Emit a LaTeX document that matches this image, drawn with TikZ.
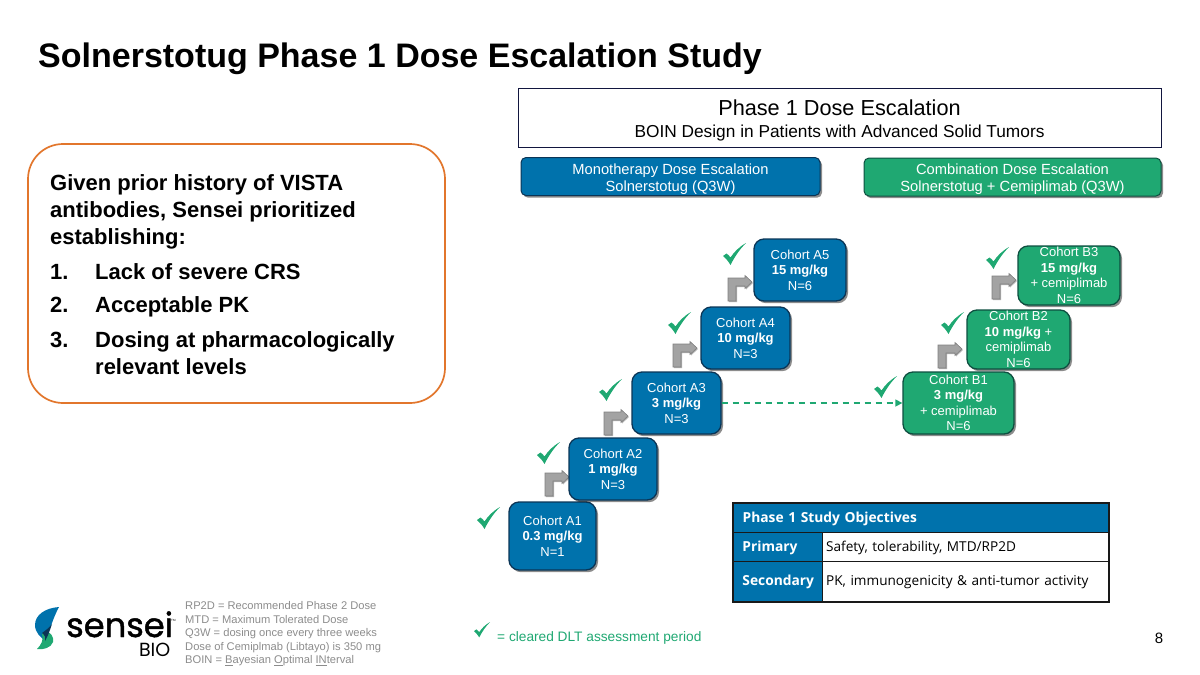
\documentclass[tikz,border=0pt]{standalone}
\usepackage{fontspec}
\setmainfont{Liberation Sans}
\newfontfamily\tablefont{Open Sans}
\newfontfamily\logofont[FakeBold=1.3]{Poppins}
\newfontfamily\biofont{Poppins}
\usetikzlibrary{shadows,arrows.meta}
\definecolor{sblue}{HTML}{0072AC}
\definecolor{sgreen}{HTML}{1FA872}
\definecolor{sgreendk}{HTML}{0E4F40}
\definecolor{sbluedk}{HTML}{0B3556}
\definecolor{sorange}{HTML}{E2762C}
\definecolor{footgray}{HTML}{8C8C8C}
\definecolor{navy}{HTML}{12163F}
\tikzset{
  x=1pt,y=-1pt,
  boxshadow/.style={drop shadow={shadow xshift=2pt,shadow yshift=-2.2pt,opacity=.45,fill=black}},
  cohortbase/.style={rounded corners=10pt,line width=1.3pt,text=white,align=center,inner sep=0pt,boxshadow,
    font=\fontsize{13}{15.5}\selectfont},
  cohortA/.style={cohortbase,fill=sblue,draw=sbluedk},
  cohortB/.style={cohortbase,fill=sgreen,draw=sgreendk},
  headbase/.style={rounded corners=5pt,line width=1pt,text=white,align=center,inner sep=0pt,boxshadow,
    font=\fontsize{14.7}{17.5}\selectfont},
  checkmark/.style={fill=sgreen,draw=none},
  bentshape/.style={fill=black!36,draw=black!50,line width=.6pt,
    drop shadow={shadow xshift=1pt,shadow yshift=-1pt,opacity=.3,fill=black}},
  tablecell/.style={draw=black!90,line width=1.3pt,inner sep=0pt,anchor=north west,text height=12pt,text depth=2.5pt},
  tablehead/.style={tablecell,fill=sblue,text=white,font=\tablefont\bfseries\fontsize{13.8}{15}\selectfont,align=left},
  tablebody/.style={tablecell,fill=white,text=black,font=\tablefont\fontsize{13.6}{15}\selectfont,align=left},
  footnote/.style={text=footgray,align=left,inner sep=0pt,font=\fontsize{11.15}{13.5}\selectfont},
}
\newcommand{\chk}[3]{\fill[checkmark,shift={(#1,#2)},scale=#3] (0,13) -- (3.5,10.5) .. controls (5,11.5) and (6.5,13) .. (7.5,14.5) .. controls (11,9) and (16,4) .. (23,0) .. controls (17,6) and (12,13) .. (7.5,22) .. controls (5.5,18.5) and (3,15.5) .. (0,13) -- cycle;}
\newcommand{\bent}[2]{\draw[bentshape,shift={(#1,#2)}] (-24,19) -- (-24,-4) -- (-7,-4) -- (-7,-6.5) -- (0,0) -- (-7,6.5) -- (-7,4) -- (-16,4) -- (-16,19) -- cycle;}
\begin{document}
\begin{tikzpicture}
\useasboundingbox (0,0) rectangle (1200,675);

\node[anchor=west,inner sep=0pt,font=\bfseries\fontsize{34}{40}\selectfont] (title) at (38,59) {Solnerstotug Phase 1 Dose Escalation Study};

% callout
\node[draw=sorange,line width=1.7pt,rounded corners=35pt,fill=white,minimum width=417pt,minimum height=259pt,inner sep=0pt] (callout) at (236.5,273.5) {};
\node[anchor=north west,inner sep=0pt,align=left,font=\bfseries\fontsize{22}{27}\selectfont] (callouttext) at (50,174.5) {Given prior history of VISTA\\antibodies, Sensei prioritized\\establishing:\\[8pt]
\makebox[45pt][l]{1.}Lack of severe CRS\\[6pt]
\makebox[45pt][l]{2.}Acceptable PK\\[8pt]
\makebox[45pt][l]{3.}Dosing at pharmacologically\\
\makebox[45pt][l]{}relevant levels};

% header
\node[draw=navy,line width=1pt,minimum width=643pt,minimum height=59pt,inner sep=0pt,align=center] (phase) at (839.5,117.5) {};
\node[font=\fontsize{21.7}{26}\selectfont,inner sep=0pt] (phasetitle) at (839.5,108) {Phase 1 Dose Escalation};
\node[font=\fontsize{17.3}{20}\selectfont,inner sep=0pt] (phasesub) at (839.5,133.5) {BOIN Design in Patients with Advanced Solid Tumors};
\node[headbase,fill=sblue,draw=sbluedk,minimum width=299pt,minimum height=38pt] (mono) at (670.5,176.5) {\rule{0pt}{16pt}Monotherapy Dose Escalation\\Solnerstotug (Q3W)};
\node[headbase,fill=sgreen,draw=sgreendk,minimum width=297pt,minimum height=38pt] (combo) at (1012.5,177) {\rule{0pt}{15pt}Combination Dose Escalation\\Solnerstotug + Cemiplimab (Q3W)};

% bent arrows
\bent{569}{477}
\bent{628}{416}
\bent{697}{348}
\bent{752}{282}
\bent{962}{349}
\bent{1016}{280}

% cohorts
\node[cohortA,minimum width=87pt,minimum height=68pt] (A1) at (552.5,536) {Cohort A1\\\textbf{0.3 mg/kg}\\N=1};
\node[cohortA,minimum width=88pt,minimum height=62pt] (A2) at (613,469) {Cohort A2\\\textbf{1 mg/kg}\\N=3};
\node[cohortA,minimum width=89pt,minimum height=62pt] (A3) at (676.5,403) {Cohort A3\\\textbf{3 mg/kg}\\N=3};
\node[cohortA,minimum width=89pt,minimum height=62pt] (A4) at (745.5,338) {Cohort A4\\\textbf{10 mg/kg}\\N=3};
\node[cohortA,minimum width=92pt,minimum height=62pt] (A5) at (800,270) {Cohort A5\\\textbf{15 mg/kg}\\N=6};
\node[cohortB,minimum width=111pt,minimum height=62pt] (B1) at (958.5,403) {Cohort B1\\\textbf{3 mg/kg}\\+ cemiplimab\\N=6};
\node[cohortB,minimum width=103pt,minimum height=59pt] (B2) at (1018.5,339.5) {Cohort B2\\\textbf{10 mg/kg} +\\cemiplimab\\N=6};
\node[cohortB,minimum width=102pt,minimum height=59pt] (B3) at (1069,275.5) {Cohort B3\\\textbf{15 mg/kg}\\+ cemiplimab\\N=6};

\draw[sgreen,line width=1.4pt,dash pattern=on 6pt off 5pt,-{Triangle[length=7pt,width=7pt]}] (A3.east) -- (B1.west);

% checks
\chk{477}{507}{1}
\chk{537}{442}{1}
\chk{599}{379}{1}
\chk{668}{312}{1}
\chk{723}{243}{1}
\chk{874}{376}{1}
\chk{941}{312}{1}
\chk{986}{247}{1}
\chk{474}{622}{.7}
\node[anchor=west,inner sep=0pt,text=sgreen,font=\fontsize{13.7}{16}\selectfont] (legend) at (497,638) {= cleared DLT assessment period};

% table
\node[tablehead,minimum width=375pt,minimum height=28.5pt,text width=357pt] (thead) at (733,503) {Phase 1 Study Objectives};
\node[tablehead,minimum width=88.5pt,minimum height=29pt,text width=71pt] (tprim) at (733,531.5) {Primary};
\node[tablebody,minimum width=286.5pt,minimum height=29pt,text width=278.5pt] (tprimv) at (821.5,531.5) {Safety, tolerability, MTD/RP2D};
\node[tablehead,minimum width=88.5pt,minimum height=40pt,text width=71pt] (tsec) at (733,560.5) {Secondary};
\node[tablebody,minimum width=286.5pt,minimum height=40pt,text width=278.5pt] (tsecv) at (821.5,560.5) {PK, immunogenicity \& anti-tumor activity};
\draw[black!90,line width=1.5pt] (thead.north west) rectangle (tsecv.south east);

% logo
\fill[sblue] (59,607) .. controls (45,608) and (35,615) .. (35,625) .. controls (35,633) and (41,637) .. (45,641) .. controls (50,630) and (53,618) .. (59,607) -- cycle;
\fill[sgreen] (45,631) .. controls (51,632) and (54,637) .. (53,642) .. controls (51,648) and (43,650) .. (37,649) .. controls (41,645) and (44,640) .. (42,634) -- cycle;
\fill[sbluedk] (42,633) .. controls (46,630) and (49,628) .. (52,624) .. controls (50,630) and (48,636) .. (45,641) .. controls (46,638) and (45,635) .. (42,633) -- cycle;
\node[anchor=base west,inner sep=0pt,text depth=0pt,font=\logofont\fontsize{33.7}{36}\selectfont] (sensei) at (66,637) {sensei};
\node[anchor=base west,inner sep=0pt,font=\fontsize{3}{3}\selectfont] (tm) at (171,621) {TM};
\node[anchor=base east,inner sep=0pt,font=\biofont\fontsize{19}{20}\selectfont] (bio) at (170.5,656) {BIO};

\node[footnote,anchor=north west] (foot) at (185,601.5) {RP2D = Recommended Phase 2 Dose\\MTD = Maximum Tolerated Dose\\Q3W = dosing once every three weeks\\Dose of Cemiplmab (Libtayo) is 350 mg\\BOIN = \underline{B}ayesian \underline{O}ptimal \underline{IN}terval};

\node[inner sep=0pt,font=\fontsize{15}{17}\selectfont] (page) at (1159,638) {8};
\end{tikzpicture}
\end{document}
